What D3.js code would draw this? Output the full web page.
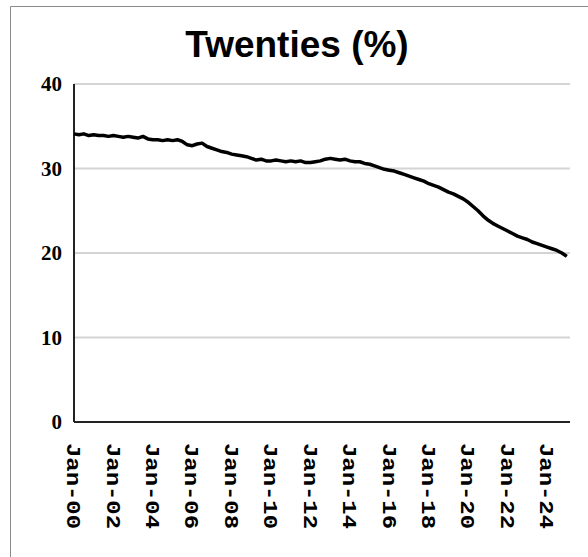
<!DOCTYPE html>
<html>
<head>
<meta charset="utf-8">
<script src="https://cdn.jsdelivr.net/npm/d3@7"></script>
<style>
  body { margin: 0; background: #fff; }
  svg { display: block; }
</style>
</head>
<body>
<div id="content"></div>
<script>
var width = 588,
    height = 557;

// quarterly readings, first one is Jan 2000
var firstQuarter = "2000-01";
var twenties = [
    34.1, 34.0, 34.1, 33.9,
    34.0, 33.9, 33.9, 33.8,
    33.9, 33.8, 33.7, 33.8,
    33.7, 33.6, 33.8, 33.5,
    33.4, 33.4, 33.3, 33.4,
    33.3, 33.4, 33.2, 32.8,
    32.7, 32.9, 33.0, 32.6,
    32.4, 32.2, 32.0, 31.9,
    31.7, 31.6, 31.5, 31.4,
    31.2, 31.0, 31.1, 30.9,
    30.9, 31.0, 30.9, 30.8,
    30.9, 30.8, 30.9, 30.7,
    30.7, 30.8, 30.9, 31.1,
    31.2, 31.1, 31.0, 31.1,
    30.9, 30.8, 30.8, 30.6,
    30.5, 30.3, 30.1, 29.9,
    29.8, 29.7, 29.5, 29.3,
    29.1, 28.9, 28.7, 28.5,
    28.2, 28.0, 27.8, 27.5,
    27.2, 27.0, 26.7, 26.4,
    26.0, 25.5, 25.0, 24.4,
    23.9, 23.5, 23.2, 22.9,
    22.6, 22.3, 22.0, 21.8,
    21.6, 21.3, 21.1, 20.9,
    20.7, 20.5, 20.3, 20.0,
    19.6
];
var xTickLabels = ["Jan-00", "Jan-02", "Jan-04", "Jan-06", "Jan-08", "Jan-10", "Jan-12",
                   "Jan-14", "Jan-16", "Jan-18", "Jan-20", "Jan-22", "Jan-24"];
var yTicks = [0, 10, 20, 30, 40];

var parseMonth = d3.timeParse("%Y-%m");
var parseLabel = d3.timeParse("%b-%y");
var start = parseMonth(firstQuarter);

var data = twenties.map(function (v, i) {
    return { date: d3.timeMonth.offset(start, i * 3), value: v };
});

var svg = d3.select("#content")
    .append("svg")
    .attr("width", width)
    .attr("height", height);

svg.append("rect").attr("width", width).attr("height", height).attr("fill", "#fff");

// outer frame (only top and left show)
svg.append("path")
    .attr("d", "M10.5,557 L10.5,6.5 L588,6.5")
    .attr("fill", "none")
    .attr("stroke", "#8a8a8a")
    .attr("stroke-width", 1);

var x = d3.scaleTime()
    .domain([start, parseMonth("2025-03")])
    .range([74, 570]);

var y = d3.scaleLinear()
    .domain([0, 40])
    .range([422, 84]);

// gridlines
svg.append("g")
    .selectAll("line")
    .data(yTicks.filter(function (d) { return d > 0; }))
    .enter()
    .append("line")
    .attr("x1", 74)
    .attr("x2", 570)
    .attr("y1", function (d) { return y(d); })
    .attr("y2", function (d) { return y(d); })
    .attr("stroke", "#d4d4d4")
    .attr("stroke-width", 2);

// y axis labels
svg.append("g")
    .selectAll("text")
    .data(yTicks)
    .enter()
    .append("text")
    .attr("x", 62)
    .attr("y", function (d) { return y(d); })
    .attr("dy", "0.35em")
    .attr("text-anchor", "end")
    .style("font-family", "'Liberation Serif', serif")
    .style("font-weight", "bold")
    .style("font-size", "21px")
    .text(function (d) { return d; });

// x axis labels
var xAxis = d3.axisBottom(x)
    .tickValues(xTickLabels.map(function (s) { return parseLabel(s); }))
    .tickFormat(d3.timeFormat("%b-%y"))
    .tickSize(0);

var gx = svg.append("g")
    .attr("transform", "translate(0,422)")
    .call(xAxis);
gx.select(".domain").remove();
gx.selectAll("text")
    .attr("transform", "rotate(90)")
    .attr("x", 21)
    .attr("y", 0)
    .attr("dy", "0.35em")
    .attr("text-anchor", "start")
    .attr("fill", "#000")
    .attr("textLength", 86)
    .attr("lengthAdjust", "spacingAndGlyphs")
    .style("font-family", "'Liberation Mono', monospace")
    .style("font-weight", "bold")
    .style("font-size", "21px");

// axes lines
svg.append("line")
    .attr("x1", 74).attr("x2", 74)
    .attr("y1", y(40)).attr("y2", y(0))
    .attr("stroke", "#222").attr("stroke-width", 2);
svg.append("line")
    .attr("x1", 74).attr("x2", 570)
    .attr("y1", y(0)).attr("y2", y(0))
    .attr("stroke", "#222").attr("stroke-width", 2);

// the series
var line = d3.line()
    .x(function (d) { return x(d.date); })
    .y(function (d) { return y(d.value); });

svg.append("path")
    .datum(data)
    .attr("d", line)
    .attr("fill", "none")
    .attr("stroke", "#000")
    .attr("stroke-width", 3.5)
    .attr("stroke-linejoin", "round");

// title
svg.append("text")
    .attr("x", 297)
    .attr("y", 57)
    .attr("text-anchor", "middle")
    .style("font-family", "'Liberation Sans', Arial, sans-serif")
    .style("font-weight", "bold")
    .style("font-size", "37px")
    .text("Twenties (%)");
</script>
</body>
</html>
